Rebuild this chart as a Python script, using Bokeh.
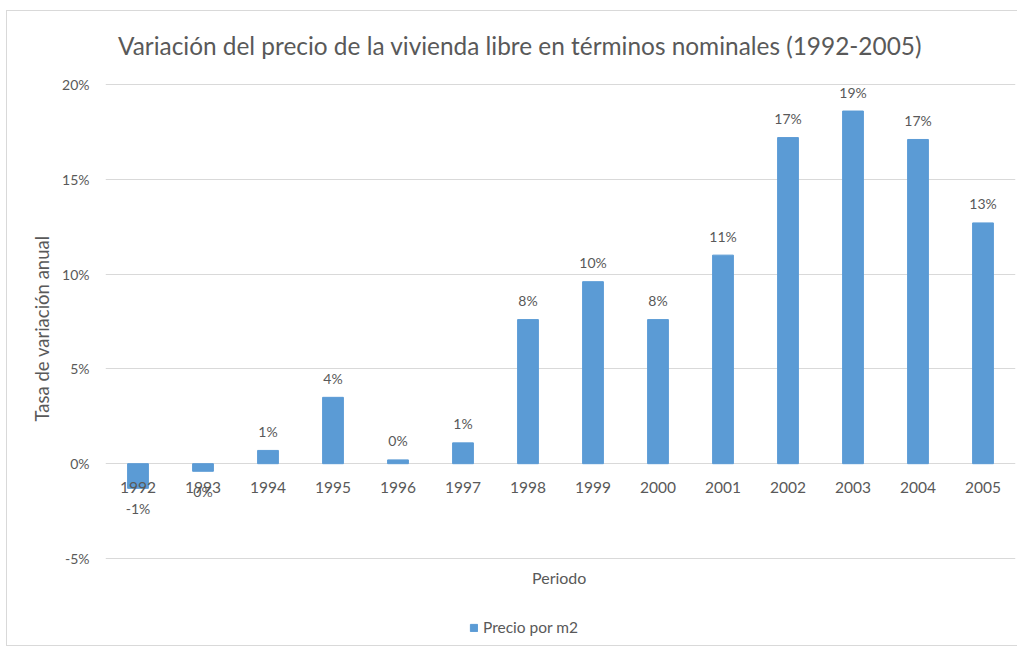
import math
from bokeh.plotting import figure
from bokeh.models import (ColumnDataSource, FactorRange, Range1d, Legend,
                          LegendItem, FixedTicker, Label)
from bokeh.core.properties import value
from bokeh.embed import file_html
from bokeh.resources import INLINE

# ---- data ----
years = ["1992", "1993", "1994", "1995", "1996", "1997", "1998",
         "1999", "2000", "2001", "2002", "2003", "2004", "2005"]
variacion = [-1.3, -0.4, 0.7, 3.5, 0.2, 1.1, 7.6,
             9.6, 7.6, 11.0, 17.2, 18.6, 17.1, 12.7]
y_ticks = [-5, 0, 5, 10, 15, 20]
y_tick_labels = ["-5%", "0%", "5%", "10%", "15%", "20%"]
title_text = "Variación del precio de la vivienda libre en términos nominales (1992-2005)"
y_title = "Tasa de variación anual"
x_title = "Periodo"
series_name = "Precio por m2"

FONT = "Lato"
TXT = "#595959"
BAR = "#5B9BD5"
GRID = "#D9D9D9"

labels = [f"{math.floor(v + 0.5)}%" for v in variacion]
offsets = [-19 if v >= 0 else 20 for v in variacion]
src = ColumnDataSource(dict(x=years, y=variacion, lab=labels, off=offsets,
                            zero=[0] * len(years)))

# the plot frame spans the full chart height; the extra y-range room above
# 20% and below -5% holds the title, the x-axis title and the legend
PX_PER_UNIT = 474 / 25.0
y_lo = y_ticks[0] - 87 / PX_PER_UNIT
y_hi = y_ticks[-1] + 73 / PX_PER_UNIT

p = figure(width=1010, height=634, x_range=FactorRange(*years),
           y_range=Range1d(y_lo, y_hi),
           output_backend="svg", toolbar_location=None,
           min_border_left=98, min_border_right=2,
           min_border_top=0, min_border_bottom=0)
p.outline_line_color = None
p.background_fill_color = "white"
p.border_fill_color = "white"
p.styles = {"outline": "1px solid #D9D9D9", "margin": "11px 0 0 7px"}

bars = p.vbar(x="x", top="y", width=0.32, source=src, fill_color=BAR,
              line_color=BAR)

# data labels
p.text(x="x", y="y", text="lab", y_offset="off", source=src,
       text_align="center", text_baseline="middle",
       text_font=value(FONT), text_font_size="14px", text_color=TXT)
# category labels at y = 0
p.text(x="x", y="zero", text="x", y_offset=24, source=src,
       text_align="center", text_baseline="middle",
       text_font=value(FONT), text_font_size="15.5px", text_color=TXT)

# chart title
p.add_layout(Label(x=6.377, y=y_ticks[-1] + 39 / PX_PER_UNIT, text=title_text,
                   text_align="center", text_baseline="middle",
                   text_font=FONT, text_font_size="24.4px", text_color=TXT))
# x-axis title
p.add_layout(Label(x=6.98, y=y_ticks[0] - 19 / PX_PER_UNIT, text=x_title,
                   text_align="center", text_baseline="middle",
                   text_font=FONT, text_font_size="16px", text_color=TXT))

p.xaxis.visible = False
p.xgrid.grid_line_color = None
p.ygrid.grid_line_color = GRID
p.ygrid.ticker = FixedTicker(ticks=y_ticks)

ya = p.yaxis[0]
ya.ticker = FixedTicker(ticks=y_ticks)
ya.major_label_overrides = dict(zip(y_ticks, y_tick_labels))
ya.axis_line_color = None
ya.major_tick_line_color = None
ya.minor_tick_line_color = None
ya.major_label_standoff = 10
ya.major_label_text_font = FONT
ya.major_label_text_font_size = "14px"
ya.major_label_text_color = TXT
ya.axis_label = y_title
ya.axis_label_text_font = FONT
ya.axis_label_text_font_size = "18.5px"
ya.axis_label_text_font_style = "normal"
ya.axis_label_text_color = TXT
ya.axis_label_standoff = 6

legend = Legend(items=[LegendItem(label=series_name, renderers=[bars])],
                location=(364, 9), orientation="horizontal",
                padding=0, margin=0, spacing=0,
                glyph_width=9, glyph_height=9, label_height=16,
                label_standoff=5, border_line_color=None,
                background_fill_alpha=0,
                label_text_font=FONT, label_text_font_size="15.5px",
                label_text_color=TXT)
p.add_layout(legend, "center")

open("out.html", "w").write(file_html(p, INLINE))
